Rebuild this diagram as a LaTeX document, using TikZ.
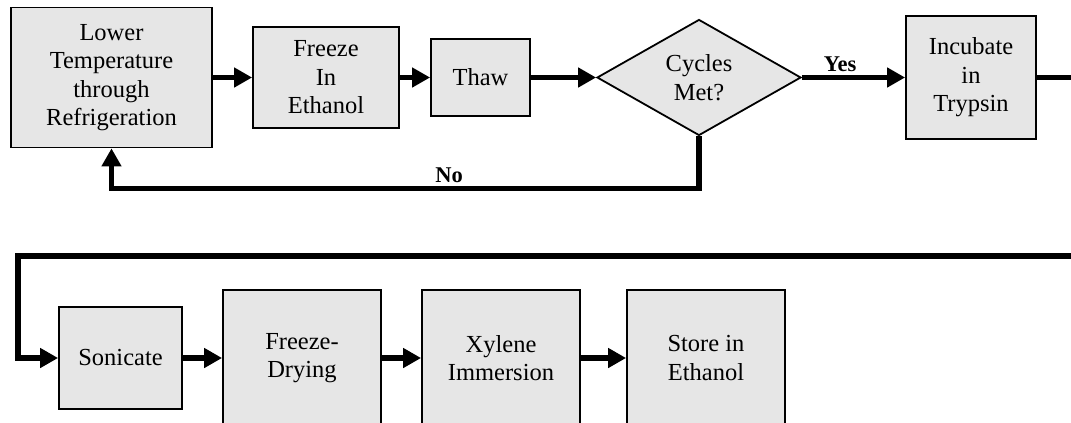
\documentclass[tikz,border=0pt]{standalone}
\usepackage{fontspec}
\setmainfont{Liberation Serif}
\usetikzlibrary{shapes.geometric,arrows.meta}
\definecolor{boxgray}{HTML}{E6E6E6}
\begin{document}
\begin{tikzpicture}[x=1pt,y=-1pt,
  box/.style={draw=black,line width=1.8pt,fill=boxgray,align=center,inner sep=0pt,
    font=\fontsize{24.5}{28.5}\selectfont},
  arr/.style={line width=5.5pt,-{Triangle[length=18pt,width=19pt]}},
  plainline/.style={line width=5.5pt},
  lbl/.style={font=\fontsize{22.5}{26}\selectfont\bfseries,inner sep=0pt}]
\useasboundingbox (0,0) rectangle (1071,423);
\clip (0,0) rectangle (1071,423);
% top row
\node[box,minimum width=201pt,minimum height=140pt] (low) at (111.5,77.5) {Lower\\Temperature\\through\\Refrigeration};
\node[box,minimum width=146pt,minimum height=101pt] (frz) at (326,77.5) {Freeze\\In\\Ethanol};
\node[box,minimum width=99pt,minimum height=77pt] (thaw) at (480.5,77.5) {Thaw};
\node[box,shape=diamond,aspect=1.76,minimum width=204pt,minimum height=116pt] (dia) at (699,77.5) {Cycles\\Met?};
\node[box,minimum width=130pt,minimum height=123pt] (inc) at (971,77.5) {Incubate\\in\\Trypsin};
% bottom row
\node[box,minimum width=123pt,minimum height=102pt] (son) at (120.5,358) {Sonicate};
\node[box,minimum width=158pt,minimum height=136pt] (fd) at (302,358) {Freeze-\\Drying};
\node[box,minimum width=158pt,minimum height=136pt] (xyl) at (501,358) {Xylene\\Immersion};
\node[box,minimum width=158pt,minimum height=136pt] (sto) at (706,358) {Store in\\Ethanol};
% connectors top
\draw[arr] (low) -- (frz);
\draw[arr] (frz) -- (thaw);
\draw[arr] (thaw) -- (dia.west);
\draw[arr] (dia.east) -- (inc.west);
\node[lbl] (yes) at (840,64) {Yes};
\draw[arr] (dia.south) -- ++(0,52) -| (low.south);
\node[lbl] (no) at (449,175) {No};
\coordinate (outA) at (1090,77.5);
\draw[plainline] (inc.east) -- (outA);
% connector into bottom row
\coordinate (inB) at (1090,256);
\coordinate (corner) at (18,256);
\draw[arr] (inB) -- (corner) |- (son.west);
\draw[arr] (son) -- (fd);
\draw[arr] (fd) -- (xyl);
\draw[arr] (xyl) -- (sto);
\end{tikzpicture}
\end{document}
